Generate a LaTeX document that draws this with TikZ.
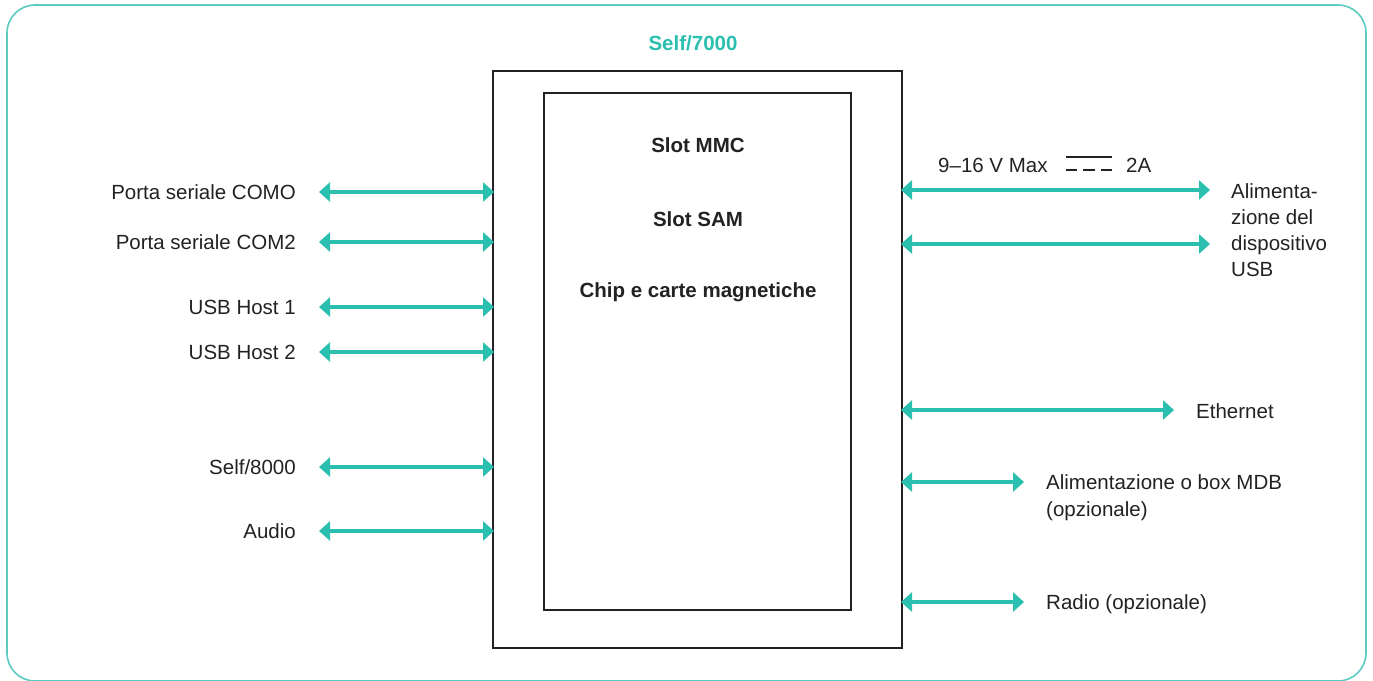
\documentclass[tikz,border=0pt]{standalone}
\usepackage{fontspec}
\setmainfont{Liberation Sans}
\usetikzlibrary{arrows.meta}
\definecolor{teal1}{HTML}{2BBFB0}
\definecolor{frame1}{HTML}{5CCBC0}
\definecolor{ink}{HTML}{222222}
\tikzset{
  conn/.style={teal1, line width=3.2pt, {Triangle[length=11pt,width=19pt]}-{Triangle[length=11pt,width=19pt]}},
  lbl/.style={font=\fontsize{20.5}{24}\selectfont, text=ink, inner sep=0pt},
  boldlbl/.style={font=\fontsize{20.5}{24}\selectfont\bfseries, text=ink, inner sep=0pt},
  boxline/.style={draw=ink, line width=2pt},
}
\begin{document}
\begin{tikzpicture}[x=1pt,y=-1pt]
\useasboundingbox (0,0) rectangle (1373,680);
% frame
\draw[frame1, line width=1.6pt, rounded corners=28pt] (7,5) rectangle (1366,681);
% title
\node[font=\fontsize{20.5}{24}\selectfont\bfseries, text=teal1, inner sep=0pt] (title) at (693,43) {Self/7000};
% boxes
\draw[boxline] (493,71) rectangle (902,648);
\draw[boxline] (544,93) rectangle (851,610);
\node[boldlbl] (mmc) at (698,145) {Slot MMC};
\node[boldlbl] (sam) at (698,219) {Slot SAM};
\node[boldlbl] (chip) at (698,292) {Chip e carte magnetiche};
% left connectors
\foreach \y/\t/\n in {192/{Porta seriale COMO}/a, 242/{Porta seriale COM2}/b, 307/{USB Host 1}/c, 352/{USB Host 2}/d, 467/{Self/8000}/e, 531/{Audio}/f}{
  \node[lbl, anchor=east] (l\n) at (296,\y) {\t};
  \coordinate (ls\n) at (319,\y);
  \coordinate (le\n) at (494,\y);
  \draw[conn] (ls\n) -- (le\n);
}
% right connectors
\foreach \y/\x/\n in {190/1210/a, 244/1210/b, 410/1174/c, 482/1024/d, 602/1024/e}{
  \coordinate (rs\n) at (901,\y);
  \coordinate (re\n) at (\x,\y);
  \draw[conn] (rs\n) -- (re\n);
}
\node[lbl, anchor=north west, align=left, font=\fontsize{20.5}{26}\selectfont] (usb) at (1231,183) {Alimenta-\\zione del\\dispositivo\\USB};
\node[lbl, anchor=west] (eth) at (1196,411) {Ethernet};
\node[lbl, anchor=north west, align=left, font=\fontsize{20.5}{27}\selectfont] (mdb) at (1046,474) {Alimentazione o box MDB\\(opzionale)};
\node[lbl, anchor=west] (radio) at (1046,604) {Radio (opzionale)};
% power spec
\node[lbl, anchor=west] (volt) at (938,165) {9–16 V Max};
\draw[ink, line width=2.4pt] (1066,157) -- (1112,157);
\draw[ink, line width=2.4pt] (1066,170) -- (1077,170) (1083,170) -- (1095,170) (1101,170) -- (1112,170);
\node[lbl, anchor=west] (amp) at (1126,165) {2A};
\end{tikzpicture}
\end{document}
